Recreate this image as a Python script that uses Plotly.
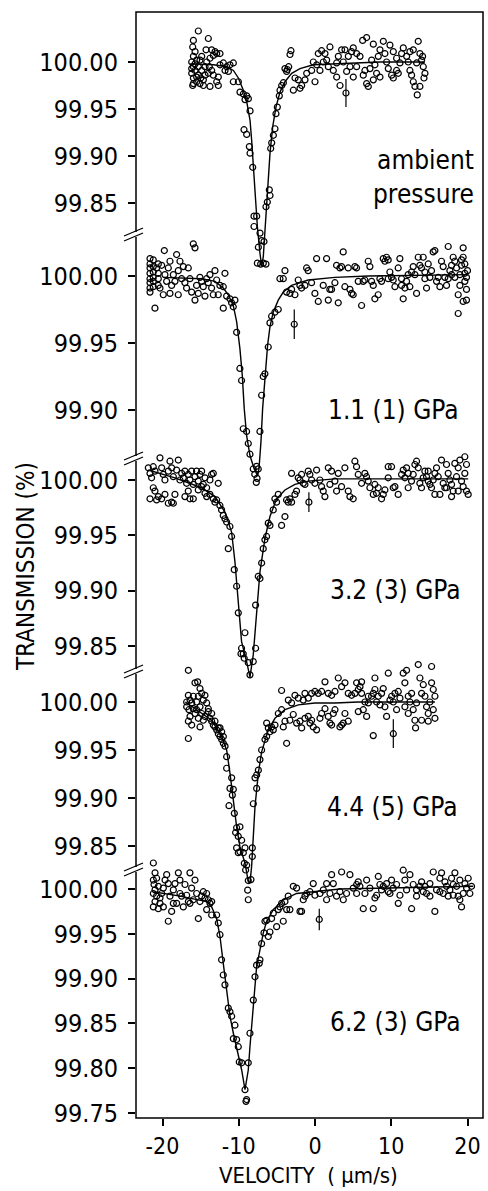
import plotly.graph_objects as go

# ---------------- data (velocity in um/s, transmission in %) ----------------
p1_pts = [
    (-15.95, 100.023), (-15.30, 100.033), (-13.99, 100.025), (-16.04, 100.016), (-15.73, 100.011),
    (-15.95, 100.006), (-16.17, 100.000), (-15.95, 99.995), (-15.73, 99.991), (-16.17, 99.988),
    (-15.95, 99.983), (-15.52, 99.979), (-16.04, 99.975), (-15.08, 99.977), (-14.64, 99.981),
    (-15.30, 99.986), (-14.86, 99.991), (-14.42, 99.995), (-15.08, 100.002), (-14.20, 100.000),
    (-13.77, 100.004), (-13.33, 100.007), (-12.89, 100.009), (-13.55, 100.013), (-13.11, 100.011),
    (-14.29, 100.013), (-12.46, 100.009), (-13.99, 99.988), (-13.55, 99.991), (-12.89, 99.979),
    (-12.68, 99.975), (-12.46, 99.997), (-12.02, 99.999), (-11.58, 99.995), (-11.15, 99.997),
    (-10.71, 99.999), (-11.36, 99.990), (-11.80, 99.991), (-14.64, 99.975), (-13.77, 99.974),
    (-15.52, 100.002), (-14.86, 100.006), (-13.33, 99.986), (-12.68, 99.984), (-15.73, 99.998),
    (-15.30, 99.995), (-15.52, 99.984), (-14.99, 99.983), (-14.42, 99.986), (-13.86, 99.995),
    (-15.95, 99.977), (-16.17, 99.993),
    (-10.71, 99.979), (-10.05, 99.979), (-9.84, 99.968), (-9.40, 99.966), (-8.96, 99.964),
    (-9.18, 99.960), (-8.74, 99.961), (-8.52, 99.948), (-9.31, 99.928), (-8.96, 99.923),
    (-8.61, 99.910), (-8.52, 99.903), (-8.17, 99.888), (-8.00, 99.836), (-7.65, 99.836),
    (-8.00, 99.825), (-7.21, 99.818), (-7.43, 99.803), (-7.00, 99.810), (-6.69, 99.809),
    (-7.56, 99.786), (-7.13, 99.785), (-6.78, 99.786), (-6.43, 99.785), (-6.43, 99.846),
    (-6.25, 99.851), (-5.99, 99.864), (-5.90, 99.858), (-5.81, 99.908), (-5.68, 99.914),
    (-5.46, 99.922), (-5.25, 99.929), (-5.12, 99.945), (-4.94, 99.952), (-4.68, 99.964),
    (-4.59, 99.970), (-4.37, 99.975), (-4.15, 99.978), (-3.63, 99.992), (-3.45, 99.995),
    (-3.28, 100.008), (-3.15, 100.012),
    (-3.94, 99.993), (-3.72, 99.990), (-2.62, 99.983), (-2.19, 99.981), (-2.84, 99.970),
    (-1.97, 99.972), (-1.75, 99.975), (-1.31, 99.981), (-1.09, 99.988), (-0.44, 99.991),
    (-0.22, 100.000), (0.22, 99.997), (0.00, 99.979), (0.65, 99.991), (0.43, 100.009),
    (0.87, 100.012), (1.31, 100.009), (1.53, 100.002), (1.96, 100.016), (1.09, 100.000),
    (1.75, 99.995), (2.40, 99.991), (2.84, 99.999), (3.06, 100.006), (3.49, 100.013),
    (3.93, 100.013), (3.28, 99.975), (4.15, 99.990), (4.59, 99.995), (4.37, 100.006),
    (4.80, 100.011), (5.02, 100.015), (5.46, 100.009), (5.90, 100.006), (5.46, 99.995),
    (6.33, 99.986), (6.55, 99.991), (6.77, 99.977), (6.99, 99.974), (6.25, 100.023),
    (6.77, 100.026), (7.65, 100.019), (7.43, 100.002), (7.21, 99.993), (8.08, 99.988),
    (7.65, 99.981), (8.30, 100.006), (8.52, 100.013), (8.96, 100.022), (9.17, 100.009),
    (9.39, 100.000), (9.61, 99.993), (10.05, 99.986), (10.27, 99.983), (9.83, 100.018),
    (10.27, 100.011), (10.70, 100.004), (11.14, 99.999), (11.36, 100.009), (11.58, 100.015),
    (12.02, 100.006), (12.23, 100.000), (12.45, 99.991), (12.67, 99.986), (12.89, 99.979),
    (13.11, 99.974), (13.41, 99.965), (13.54, 100.022), (13.76, 100.009), (13.98, 100.002),
    (14.20, 99.995), (14.29, 99.983), (14.11, 100.006), (14.42, 99.988), (12.89, 100.013),
    (12.45, 100.011), (13.33, 99.999), (13.76, 99.974), (10.70, 99.991), (10.92, 99.988),
    (8.52, 99.984), (7.86, 99.997), (5.02, 99.984), (3.71, 100.000), (2.84, 99.984),
]
fit1 = [
    (-16.4, 99.998), (-13.3, 99.997), (-11.6, 99.995), (-10.7, 99.991), (-10.05, 99.983),
    (-9.4, 99.970), (-8.96, 99.958), (-8.52, 99.938), (-8.31, 99.917), (-8.09, 99.888),
    (-7.87, 99.860), (-7.56, 99.825), (-7.21, 99.796), (-7.00, 99.783), (-6.78, 99.793),
    (-6.56, 99.818), (-6.34, 99.846), (-6.12, 99.874), (-5.90, 99.903), (-5.55, 99.931),
    (-5.12, 99.952), (-4.59, 99.968), (-3.94, 99.979), (-3.06, 99.988), (-1.97, 99.993),
    (-0.22, 99.997), (2.4, 99.998), (5.0, 99.999), (8.5, 100.000), (14.4, 100.000),
]
err1 = (4.06, 99.967, 0.015)

p2_pts = [
    (-21.64, 100.013), (-21.64, 100.009), (-21.64, 100.006), (-21.64, 100.002), (-21.64, 99.998),
    (-21.64, 99.995), (-21.64, 99.991), (-21.64, 99.988), (-21.21, 100.012), (-21.21, 100.007),
    (-21.21, 100.003), (-21.21, 99.999), (-21.21, 99.996), (-21.21, 99.992), (-20.99, 99.976),
    (-20.77, 100.006), (-20.55, 100.009), (-20.55, 100.002), (-20.55, 99.998), (-20.55, 99.993),
    (-20.33, 99.991), (-20.11, 100.008), (-19.90, 99.986), (-19.76, 100.019), (-19.68, 100.001),
    (-19.46, 99.996), (-19.24, 100.006), (-19.02, 99.987), (-19.02, 100.011), (-18.80, 99.993),
    (-18.58, 100.001), (-18.37, 99.996), (-18.15, 100.016), (-17.93, 99.986), (-17.93, 100.004),
    (-17.71, 100.011), (-17.49, 99.998), (-17.27, 100.007), (-17.06, 99.995), (-16.84, 99.991),
    (-16.62, 100.006), (-16.40, 99.998), (-15.96, 100.024), (-15.74, 100.021), (-16.18, 99.988),
    (-15.74, 99.982), (-15.53, 99.993), (-15.31, 99.987), (-15.09, 99.999), (-14.87, 99.996),
    (-14.65, 99.992), (-14.43, 99.985), (-14.21, 99.998), (-14.00, 99.995), (-13.78, 100.001),
    (-13.56, 99.991), (-13.34, 99.986), (-13.12, 100.004), (-12.90, 99.997), (-12.69, 99.986),
    (-12.47, 99.993), (-12.03, 99.992), (-11.81, 100.002), (-12.03, 99.976), (-11.59, 99.985),
    (-11.16, 99.983), (-10.94, 99.980), (-10.72, 99.977), (-10.50, 99.982), (-10.28, 99.958),
    (-9.85, 99.931), (-9.63, 99.922), (-9.41, 99.886), (-8.97, 99.884), (-8.75, 99.875),
    (-8.53, 99.867), (-8.10, 99.856), (-7.66, 99.858), (-7.44, 99.856), (-7.90, 99.852),
    (-7.60, 99.849), (-7.70, 99.846), (-7.22, 99.884), (-7.00, 99.911), (-6.79, 99.925),
    (-6.57, 99.927), (-6.13, 99.947), (-5.91, 99.965), (-5.69, 99.970), (-5.26, 99.973),
    (-4.82, 99.975), (-4.60, 99.998), (-4.16, 99.998), (-3.94, 100.004), (-3.73, 99.988),
    (-3.29, 99.987), (-3.07, 99.990), (-2.63, 99.986), (-2.20, 99.997), (-1.98, 99.993),
    (-1.76, 99.991), (-1.32, 99.993), (-1.10, 100.006), (-0.89, 100.004), (-0.45, 99.995),
    (-0.01, 99.987), (0.21, 100.013), (0.43, 99.981), (1.08, 99.993), (1.52, 100.013),
    (1.74, 99.982), (1.95, 99.990), (2.17, 99.990), (2.61, 99.995), (2.83, 100.008),
    (3.05, 99.980), (3.27, 100.006), (3.48, 100.007), (3.70, 100.018), (3.92, 99.992),
    (4.36, 100.006), (4.58, 99.990), (4.80, 99.987), (5.01, 99.986), (5.23, 100.007),
    (5.45, 100.006), (5.67, 99.996), (6.11, 99.978), (6.32, 99.996), (6.54, 99.997),
    (6.98, 100.011), (7.20, 100.007), (7.42, 99.996), (7.64, 99.993), (7.85, 99.983),
    (8.29, 99.986), (8.51, 99.998), (8.73, 99.996), (8.95, 100.013), (9.17, 100.011),
    (9.38, 100.014), (9.60, 100.012), (9.82, 100.003), (10.04, 99.999), (10.26, 99.997),
    (10.48, 99.992), (10.91, 100.006), (11.13, 100.013), (11.35, 99.998), (11.57, 99.983),
    (11.79, 99.991), (12.01, 99.996), (12.22, 100.001), (12.44, 99.992), (12.66, 100.003),
    (12.88, 100.007), (13.32, 99.987), (13.54, 100.014), (13.75, 100.008), (13.97, 100.006),
    (14.19, 100.014), (14.41, 100.003), (14.63, 99.991), (14.85, 100.009), (15.07, 99.999),
    (15.28, 100.004), (15.50, 100.018), (15.72, 100.019), (15.94, 99.996), (16.16, 99.999),
    (16.38, 99.992), (16.59, 100.011), (16.81, 100.007), (17.03, 99.999), (17.25, 99.993),
    (17.47, 100.022), (17.69, 100.004), (17.91, 100.001), (18.12, 100.014), (18.34, 100.011),
    (18.56, 100.006), (18.78, 99.986), (18.78, 99.972), (19.00, 100.001), (19.22, 100.008),
    (19.43, 100.021), (19.43, 100.014), (19.65, 100.002), (19.65, 99.996), (19.87, 99.990),
    (19.87, 99.982), (20.00, 100.004), (19.43, 99.981), (18.34, 99.999), (17.91, 100.008),
    (17.47, 99.998), (14.41, 99.998), (13.10, 100.001), (11.35, 99.993), (9.60, 99.998),
    (19.22, 100.012), (19.65, 100.009), (19.87, 99.999), (19.00, 99.993),
]
fit2 = [
    (-19.90, 99.999), (-14.87, 99.998), (-13.12, 99.996), (-12.03, 99.991), (-11.37, 99.986),
    (-10.72, 99.978), (-10.28, 99.966), (-9.85, 99.946), (-9.54, 99.926), (-9.28, 99.901),
    (-8.97, 99.881), (-8.53, 99.866), (-7.97, 99.856), (-7.53, 99.851), (-7.35, 99.856),
    (-7.09, 99.876), (-6.87, 99.901), (-6.57, 99.926), (-6.22, 99.948), (-5.91, 99.962),
    (-5.48, 99.973), (-4.82, 99.982), (-4.16, 99.988), (-3.07, 99.993), (-0.89, 99.997),
    (2.61, 99.999), (6.98, 100.000), (20.09, 100.001),
]
err2 = (-2.72, 99.964, 0.011)

p3_pts = [
    (-21.86, 100.011), (-21.64, 100.006), (-21.43, 100.002), (-21.21, 100.012), (-20.99, 100.008),
    (-20.33, 100.020), (-20.11, 100.011), (-19.90, 100.005), (-19.68, 100.000), (-19.24, 100.008),
    (-19.02, 100.017), (-18.80, 100.011), (-18.58, 100.003), (-18.15, 100.009), (-17.93, 100.018),
    (-17.71, 100.000), (-17.49, 100.006), (-17.27, 100.002), (-17.06, 100.008), (-16.84, 99.997),
    (-16.62, 100.005), (-16.40, 100.000), (-16.18, 100.008), (-15.96, 99.996), (-15.74, 100.003),
    (-15.53, 100.008), (-15.31, 99.999), (-15.09, 100.005), (-14.87, 100.008), (-14.65, 99.996),
    (-14.43, 100.002), (-14.21, 99.993), (-13.78, 100.000), (-13.56, 100.005), (-13.34, 100.006),
    (-12.69, 99.997),
    (-21.64, 99.983), (-21.21, 99.993), (-20.99, 99.990), (-20.77, 99.982), (-20.55, 99.985),
    (-20.11, 99.983), (-19.68, 99.987), (-19.24, 99.979), (-18.80, 99.980), (-18.58, 99.979),
    (-18.37, 99.987), (-17.06, 99.985), (-16.62, 99.990), (-16.40, 99.983), (-15.96, 99.983),
    (-15.31, 99.991), (-14.87, 99.994),
    (-14.43, 99.988), (-14.21, 99.985), (-13.78, 99.987), (-13.34, 99.983), (-13.12, 99.980),
    (-12.90, 99.982), (-12.47, 99.977), (-12.25, 99.973), (-12.03, 99.968), (-11.81, 99.965),
    (-11.59, 99.962), (-11.16, 99.958), (-10.94, 99.949), (-11.37, 99.938), (-10.59, 99.919),
    (-10.28, 99.904), (-10.06, 99.880), (-9.63, 99.848), (-9.71, 99.843), (-9.41, 99.843),
    (-9.19, 99.862), (-9.28, 99.839), (-8.75, 99.835), (-8.53, 99.824), (-8.10, 99.836),
    (-7.79, 99.848), (-7.79, 99.887), (-7.44, 99.913), (-7.22, 99.911), (-7.00, 99.925),
    (-6.79, 99.938), (-6.57, 99.946), (-6.35, 99.949), (-6.13, 99.961), (-5.91, 99.959),
    (-5.48, 99.973), (-5.26, 99.983), (-5.04, 99.980), (-4.82, 99.987), (-4.38, 99.959),
    (-3.94, 99.967), (-3.73, 99.982), (-3.51, 99.980), (-3.29, 99.983), (-3.07, 99.980),
    (-2.63, 99.987), (-2.42, 99.990),
    (-3.07, 100.006), (-2.20, 100.002), (-1.98, 100.000), (-1.76, 100.005), (-1.54, 99.997),
    (-1.32, 99.996), (-0.89, 100.008), (-0.67, 100.005), (-0.45, 100.000), (-0.01, 99.997),
    (0.21, 100.009), (0.64, 100.000), (0.86, 99.994), (1.08, 99.990), (1.30, 99.985),
    (1.74, 100.011), (1.95, 99.996), (2.17, 100.008), (2.61, 99.999), (2.83, 99.990),
    (3.05, 100.006), (3.48, 99.994), (3.92, 100.011), (4.36, 99.990), (4.58, 99.985),
    (5.01, 99.983), (5.23, 100.017), (5.45, 100.012), (5.67, 100.005), (6.11, 99.997),
    (6.54, 100.006), (6.76, 100.003), (6.98, 99.999), (7.20, 99.993), (7.64, 99.987),
    (7.85, 99.996), (8.07, 99.988), (8.29, 99.993), (8.73, 99.983), (8.95, 99.987),
    (9.17, 99.991), (9.60, 100.012), (10.04, 100.012), (10.26, 99.993), (10.48, 99.994),
    (10.91, 99.987), (11.35, 100.005), (11.57, 100.009), (11.79, 100.002), (12.01, 100.011),
    (12.22, 100.006), (12.66, 99.999), (12.88, 100.005), (13.10, 100.014), (13.32, 100.017),
    (13.54, 100.011), (13.75, 99.997), (13.97, 99.993), (14.19, 100.002), (14.41, 100.008),
    (14.63, 100.003), (14.85, 99.999), (15.07, 99.996), (15.28, 99.993), (15.50, 100.000),
    (15.72, 100.006), (15.94, 100.011), (16.16, 100.003), (16.38, 99.987), (16.59, 100.018),
    (16.81, 99.997), (17.03, 99.993), (17.25, 100.014), (17.47, 100.006), (17.69, 100.000),
    (17.91, 99.996), (18.12, 99.990), (18.34, 100.015), (18.56, 100.003), (18.78, 100.011),
    (19.00, 100.018), (19.22, 99.999), (19.43, 99.994), (19.65, 100.021), (19.65, 100.006),
    (19.87, 100.014), (19.87, 99.990), (20.09, 99.987), (18.78, 99.990), (17.91, 99.985),
    (17.25, 99.993), (15.72, 99.987), (14.85, 100.008), (12.22, 99.993), (9.60, 100.002),
]
fit3 = [
    (-21.86, 100.009), (-18.37, 100.002), (-14.87, 99.993), (-13.12, 99.985), (-11.81, 99.971),
    (-10.94, 99.953), (-10.50, 99.926), (-10.06, 99.893), (-9.63, 99.854), (-8.97, 99.836),
    (-8.53, 99.822), (-8.10, 99.842), (-7.66, 99.881), (-7.22, 99.917), (-6.57, 99.947),
    (-5.91, 99.967), (-5.04, 99.983), (-3.94, 99.991), (-2.63, 99.996), (-0.89, 99.999),
    (2.61, 100.001), (20.09, 100.001),
]
err3 = (-0.80, 99.980, 0.009)

p4_pts = [
    (-16.61, 100.033), (-15.74, 100.020), (-15.39, 100.021), (-15.08, 100.014), (-16.61, 100.007),
    (-16.39, 100.002), (-16.17, 99.999), (-16.83, 99.995), (-16.53, 99.992), (-15.96, 99.993),
    (-15.52, 100.000), (-15.30, 100.006), (-14.86, 100.009), (-14.43, 100.007), (-14.65, 100.002),
    (-15.08, 99.995), (-15.74, 99.988), (-16.39, 99.985), (-16.61, 99.980), (-16.17, 99.976),
    (-16.61, 99.962), (-15.30, 99.983), (-14.86, 99.988), (-14.21, 99.999), (-13.99, 99.993),
    (-14.43, 99.985), (-13.77, 99.983), (-13.55, 99.980), (-13.33, 99.976), (-13.12, 99.974),
    (-12.90, 99.971), (-12.68, 99.967), (-12.46, 99.964), (-12.24, 99.961), (-12.02, 99.957),
    (-11.80, 99.954), (-13.99, 99.990), (-15.08, 99.974), (-14.65, 99.981), (-12.68, 99.973),
    (-12.24, 99.969), (-12.02, 99.964), (-15.96, 100.006), (-15.52, 99.992), (-16.83, 100.000),
    (-13.55, 99.988), (-13.12, 99.980), (-12.46, 99.973),
    (-11.59, 99.943), (-11.59, 99.931), (-10.93, 99.921), (-11.15, 99.910), (-10.71, 99.909),
    (-10.84, 99.903), (-11.28, 99.892), (-10.58, 99.884), (-10.28, 99.869), (-9.84, 99.870),
    (-10.41, 99.864), (-10.06, 99.860), (-9.62, 99.856), (-10.28, 99.848), (-9.84, 99.844),
    (-9.40, 99.843), (-9.18, 99.848), (-10.06, 99.843), (-9.27, 99.832), (-8.96, 99.830),
    (-9.10, 99.825), (-8.75, 99.814), (-8.83, 99.804), (-8.75, 99.794), (-8.40, 99.815),
    (-8.22, 99.839), (-8.22, 99.848), (-8.09, 99.894), (-7.65, 99.910), (-7.87, 99.921),
    (-7.65, 99.924), (-7.43, 99.929), (-7.22, 99.940), (-7.00, 99.950), (-6.56, 99.961),
    (-6.34, 99.964), (-5.91, 99.969), (-6.12, 99.973), (-5.47, 99.971), (-5.25, 99.976),
    (-6.34, 99.978), (-5.69, 99.974), (-4.81, 99.988), (-4.38, 99.992), (-4.16, 99.974),
    (-3.94, 99.980), (-3.72, 99.957), (-3.29, 99.981), (-2.85, 99.987), (-2.41, 99.978),
    (-1.97, 99.980), (-1.75, 99.973), (-1.32, 99.983), (-0.88, 99.985), (-0.66, 99.978),
    (-0.44, 99.981), (-0.23, 99.974), (0.21, 99.971), (0.65, 99.983), (0.87, 99.988),
    (1.31, 99.993), (1.74, 99.985), (1.96, 99.978), (2.18, 99.976), (2.40, 99.988),
    (2.62, 99.992), (3.27, 99.974), (3.49, 99.976), (3.71, 99.978), (3.93, 99.988),
    (4.36, 99.980),
    (-4.38, 100.012), (-3.50, 100.002), (-3.07, 99.999), (-2.63, 100.007), (-2.19, 100.004),
    (-1.54, 100.002), (-1.32, 100.009), (-0.88, 100.004), (-0.44, 100.009), (-0.01, 100.011),
    (0.43, 100.009), (0.87, 100.011), (1.31, 100.021), (1.74, 100.009), (2.18, 100.007),
    (2.62, 100.011), (3.05, 100.025), (3.49, 100.016), (3.93, 100.020), (4.36, 100.009),
    (4.80, 100.007), (5.24, 100.009), (5.46, 100.020), (5.68, 100.013), (5.90, 100.016),
    (6.11, 100.021), (5.68, 99.990), (6.33, 99.992), (6.77, 99.985), (6.55, 100.000),
    (6.99, 99.999), (7.42, 100.006), (7.64, 100.009), (7.86, 100.025), (8.08, 100.000),
    (8.30, 100.006), (8.52, 99.997), (8.73, 100.009), (8.95, 100.014), (9.17, 99.995),
    (9.39, 99.985), (9.61, 100.030), (9.83, 100.002), (10.05, 100.006), (10.27, 100.000),
    (10.48, 100.009), (10.70, 99.992), (10.92, 100.011), (11.14, 100.004), (11.57, 100.030),
    (11.79, 100.020), (12.01, 100.033), (12.23, 100.006), (12.45, 100.000), (12.67, 100.009),
    (12.88, 99.992), (13.10, 99.981), (13.19, 99.973), (13.32, 99.999), (13.54, 100.039),
    (13.76, 100.025), (13.98, 100.009), (14.20, 100.018), (14.42, 100.006), (14.63, 99.995),
    (14.85, 99.988), (15.07, 100.000), (15.29, 100.037), (15.29, 100.020), (15.51, 100.013),
    (15.51, 99.992), (15.73, 99.983), (15.73, 100.006), (14.85, 99.980), (13.98, 99.981),
    (12.23, 99.988), (11.79, 99.995), (7.64, 99.965), (6.11, 100.009), (7.86, 100.013),
    (6.99, 100.006),
]
fit4 = [
    (-17.0, 100.000), (-13.55, 99.981), (-12.24, 99.964), (-11.59, 99.950), (-11.15, 99.926),
    (-10.71, 99.898), (-10.28, 99.870), (-9.84, 99.849), (-9.18, 99.832), (-8.75, 99.813),
    (-8.53, 99.811), (-8.31, 99.829), (-8.09, 99.860), (-7.87, 99.891), (-7.43, 99.926),
    (-7.00, 99.948), (-6.12, 99.971), (-5.25, 99.983), (-3.94, 99.992), (-2.19, 99.997),
    (-0.01, 99.999), (2.62, 99.999), (5.68, 100.000), (15.73, 100.000),
]
err4 = (10.27, 99.967, 0.015)

p5_pts = [
    (-21.20, 100.029), (-20.98, 100.018), (-20.77, 100.012), (-21.20, 100.010), (-21.11, 100.005),
    (-20.98, 99.999), (-21.20, 99.995), (-20.77, 99.992), (-20.98, 99.986), (-21.20, 99.980),
    (-20.55, 99.978), (-20.33, 99.984), (-20.11, 99.995), (-19.89, 100.001), (-19.67, 100.010),
    (-19.45, 100.016), (-19.24, 100.006), (-19.02, 99.992), (-18.80, 99.975), (-19.24, 99.964),
    (-18.58, 99.999), (-18.36, 100.006), (-18.14, 99.984), (-17.92, 100.018), (-17.71, 100.010),
    (-17.49, 99.992), (-17.27, 99.980), (-17.05, 100.005), (-16.83, 99.993), (-16.61, 99.986),
    (-16.40, 100.018), (-16.18, 100.001), (-15.96, 99.988), (-15.74, 100.010), (-15.52, 99.995),
    (-15.30, 99.967), (-15.09, 99.986), (-14.87, 99.992), (-14.65, 99.997), (-14.43, 99.990),
    (-14.21, 99.995), (-13.99, 99.988), (-13.77, 99.984), (-13.55, 99.986), (-20.33, 99.990),
    (-19.89, 99.980), (-20.55, 100.003), (-18.58, 99.984), (-17.71, 99.995), (-16.40, 99.984),
    (-14.21, 99.977), (-13.55, 99.971), (-12.90, 99.971), (-12.68, 99.962), (-12.46, 99.949),
    (-12.25, 99.921), (-12.03, 99.904), (-11.81, 99.893), (-11.37, 99.867), (-11.15, 99.863),
    (-10.93, 99.858), (-10.50, 99.848), (-10.71, 99.833), (-10.28, 99.832), (-10.06, 99.824),
    (-9.93, 99.807), (-9.62, 99.806), (-9.18, 99.776), (-8.97, 99.765), (-9.05, 99.763),
    (-8.75, 99.806), (-8.53, 99.839), (-8.09, 99.876), (-7.87, 99.902), (-7.66, 99.915),
    (-7.31, 99.917), (-7.22, 99.921), (-7.00, 99.939), (-6.69, 99.951), (-6.56, 99.964),
    (-6.34, 99.965), (-6.13, 99.947), (-5.91, 99.952), (-5.69, 99.967), (-5.47, 99.973),
    (-5.03, 99.958), (-4.82, 99.977), (-4.60, 99.980), (-4.38, 99.984), (-4.16, 99.964),
    (-3.94, 99.986), (-3.72, 99.977), (-3.51, 99.992), (-3.29, 99.977), (-2.85, 100.003),
    (-2.41, 100.001), (-1.97, 99.975), (-1.76, 99.975), (-1.54, 99.988), (-1.32, 99.992),
    (-1.10, 99.995), (-0.66, 99.997), (-0.23, 100.006), (-0.01, 99.993),
    (0.65, 99.995), (1.09, 99.999), (1.52, 99.988), (1.96, 99.995), (2.18, 100.016),
    (2.40, 100.006), (2.83, 99.992), (3.27, 99.997), (3.49, 100.019), (3.71, 99.988),
    (4.14, 99.995), (4.58, 100.016), (5.02, 100.001), (5.46, 100.005), (5.67, 100.008),
    (5.89, 100.003), (6.33, 99.978), (6.55, 99.995), (6.77, 100.010), (7.20, 100.001),
    (7.64, 99.978), (7.86, 99.990), (8.08, 99.993), (8.30, 100.014), (8.51, 100.005),
    (8.73, 99.999), (8.95, 100.003), (9.39, 100.006), (9.61, 99.997), (9.83, 99.995),
    (10.04, 100.010), (10.26, 100.001), (10.70, 100.005), (10.92, 99.984), (11.14, 99.993),
    (11.57, 100.021), (11.79, 100.010), (12.01, 99.999), (12.45, 100.016), (12.67, 99.978),
    (12.88, 100.005), (13.32, 99.999), (13.76, 100.003), (13.98, 100.008), (14.20, 99.997),
    (14.41, 100.003), (14.63, 99.995), (15.07, 100.006), (15.51, 100.019), (15.72, 99.975),
    (15.94, 99.999), (16.38, 99.997), (16.60, 100.018), (16.82, 99.995), (17.04, 100.008),
    (17.25, 100.003), (17.47, 99.992), (17.69, 99.999), (17.91, 100.012), (18.13, 99.993),
    (18.35, 100.018), (18.57, 100.003), (18.78, 99.992), (19.00, 100.010), (19.22, 99.980),
    (19.44, 99.995), (19.66, 100.006), (19.88, 100.001), (20.09, 100.012), (20.31, 99.995),
    (20.53, 100.003), (19.00, 99.988), (18.13, 100.005), (16.38, 100.012), (15.07, 99.992),
    (13.32, 99.992), (5.46, 99.995), (1.52, 100.006),
]
fit5 = [
    (-21.20, 99.997), (-17.71, 99.992), (-14.21, 99.986), (-13.55, 99.980), (-12.90, 99.967),
    (-12.46, 99.947), (-12.03, 99.917), (-11.59, 99.884), (-11.15, 99.858), (-10.71, 99.839),
    (-10.06, 99.813), (-9.62, 99.798), (-9.18, 99.776), (-8.75, 99.798), (-8.53, 99.824),
    (-8.09, 99.872), (-7.66, 99.913), (-7.22, 99.932), (-6.78, 99.951), (-6.34, 99.964),
    (-5.47, 99.977), (-4.16, 99.988), (-2.41, 99.995), (-0.23, 99.997), (3.27, 100.000),
    (20.75, 100.003),
]
err5 = (0.56, 99.966, 0.012)

panel_labels = ["ambient<br>pressure", "1.1 (1) GPa", "3.2 (3) GPa", "4.4 (5) GPa", "6.2 (3) GPa"]
panel_ticks = [
    [100.00, 99.95, 99.90, 99.85],
    [100.00, 99.95, 99.90],
    [100.00, 99.95, 99.90, 99.85],
    [100.00, 99.95, 99.90, 99.85],
    [100.00, 99.95, 99.90, 99.85, 99.80, 99.75],
]
x_ticks = [-20, -10, 0, 10, 20]
x_title = "VELOCITY  ( μm/s)"
y_title = "TRANSMISSION (%)"

# ---------------- layout geometry (pixels) ----------------
W, H = 488, 1191
ML, MR, MT, MB = 136, 5, 12, 73
PB = H - MB            # pixel row of bottom axis
PH = PB - MT
PW = W - ML - MR
X0_PX, PX_PER_V = 315.0, 7.625   # pixel of v=0, pixels per um/s
# per panel: pixel row of 100.00, pixels per % unit, domain top / bottom pixel rows
geom = [
    (62, 940.0, MT, 285),
    (276, 1340.0, 225, 485),
    (480, 1107.0, 445, 690),
    (702, 960.0, 655, 912),
    (889, 896.0, 855, PB),
]
label_pos = [(476, 177, "right"), (393, 410, "center"), (395, 590, "center"),
             (392, 807, "center"), (395, 1022, "center")]
break_rows = [233, 457, 670, 868]

FONT = "Liberation Sans Narrow, DejaVu Sans Condensed, Arial Narrow, sans-serif"
FS = 25


def fx(px):
    return (px - ML) / PW


def fy(py):
    return (PB - py) / PH


fig = go.Figure()
panels = [(p1_pts, fit1, err1), (p2_pts, fit2, err2), (p3_pts, fit3, err3),
          (p4_pts, fit4, err4), (p5_pts, fit5, err5)]
layout_axes = {}
for i, (pts, fit, err) in enumerate(panels):
    ya = "y" if i == 0 else f"y{i + 1}"
    ref, ppu, top, bot = geom[i]
    fig.add_trace(go.Scatter(x=[p[0] for p in fit], y=[p[1] for p in fit], mode="lines",
                             line=dict(color="black", width=1.4), xaxis="x", yaxis=ya,
                             showlegend=False, hoverinfo="skip"))
    fig.add_trace(go.Scatter(x=[p[0] for p in pts], y=[p[1] for p in pts], mode="markers",
                             marker=dict(symbol="circle-open", size=6, color="black",
                                         line=dict(width=1.2, color="black")),
                             xaxis="x", yaxis=ya, cliponaxis=False, showlegend=False))
    fig.add_trace(go.Scatter(x=[err[0]], y=[err[1]], mode="markers",
                             marker=dict(symbol="circle-open", size=6, color="black",
                                         line=dict(width=1.2, color="black")),
                             error_y=dict(type="data", array=[err[2]], visible=True,
                                          width=0, thickness=1.2, color="black"),
                             xaxis="x", yaxis=ya, cliponaxis=False, showlegend=False))
    key = "yaxis" if i == 0 else f"yaxis{i + 1}"
    layout_axes[key] = dict(
        domain=[fy(bot), fy(top)],
        range=[100 - (bot - ref) / ppu, 100 + (ref - top) / ppu],
        anchor="x", showgrid=False, zeroline=False, showline=False,
        tickmode="array", tickvals=panel_ticks[i],
        ticktext=[f"{t:.2f}" for t in panel_ticks[i]],
        ticks="outside", ticklen=7, tickwidth=1.5, tickcolor="black",
        ticklabelstandoff=5,
        tickfont=dict(family=FONT, size=FS, color="black"),
    )

shapes = [dict(type="rect", xref="paper", yref="paper", x0=0, x1=1, y0=0, y1=1,
               line=dict(color="black", width=1.5), layer="above")]
for r in break_rows:
    shapes.append(dict(type="rect", xref="paper", yref="paper", x0=fx(ML - 2), x1=fx(ML + 2),
                       y0=fy(r + 4), y1=fy(r - 1), fillcolor="white", line=dict(width=0),
                       layer="above"))
    for off in (0, 5):
        shapes.append(dict(type="line", xref="paper", yref="paper",
                           x0=fx(ML - 12), y0=fy(r + 5 + off - 2), x1=fx(ML + 7),
                           y1=fy(r - 3 + off - 2),
                           line=dict(color="black", width=1.3), layer="above"))

annotations = []
for (px, py, al), txt in zip(label_pos, panel_labels):
    annotations.append(dict(x=fx(px), y=fy(py), xref="paper", yref="paper", text=txt,
                            showarrow=False, xanchor=al, yanchor="middle", align="right",
                            font=dict(family=FONT, size=FS + 1, color="black")))
annotations.append(dict(x=fx(26), y=fy(567), xref="paper", yref="paper", text=y_title,
                        textangle=-90, showarrow=False, xanchor="center", yanchor="middle",
                        font=dict(family=FONT, size=FS - 1, color="black")))
annotations.append(dict(x=fx(308), y=fy(1175), xref="paper", yref="paper", text=x_title,
                        showarrow=False, xanchor="center", yanchor="middle",
                        font=dict(family=FONT, size=FS - 3, color="black")))

fig.update_layout(
    width=W, height=H,
    margin=dict(l=ML, r=MR, t=MT, b=MB, pad=0),
    paper_bgcolor="white", plot_bgcolor="rgba(0,0,0,0)",
    showlegend=False,
    xaxis=dict(domain=[0, 1], range=[(ML - X0_PX) / PX_PER_V, (W - MR - X0_PX) / PX_PER_V],
               anchor="y5", showgrid=False, zeroline=False, showline=False,
               tickmode="array", tickvals=x_ticks, ticktext=[str(t) for t in x_ticks],
               ticks="outside", ticklen=7, tickwidth=1.5, tickcolor="black",
               ticklabelstandoff=0,
               tickfont=dict(family=FONT, size=FS - 2, color="black")),
    shapes=shapes, annotations=annotations,
    **layout_axes,
)

fig.write_html("out.html")
